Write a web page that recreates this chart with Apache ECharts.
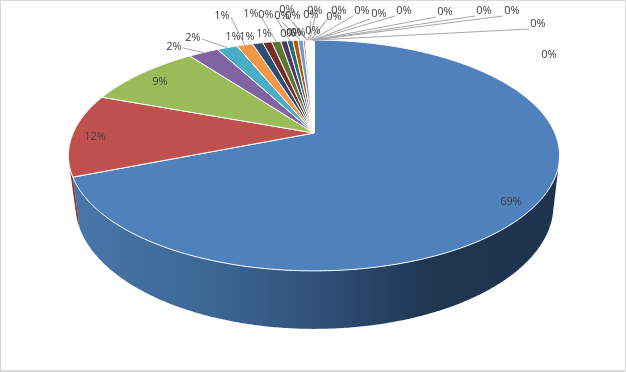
<!DOCTYPE html>
<html>
<head>
<meta charset="utf-8">
<style>
  html, body { margin: 0; padding: 0; background: #fff; }
  #chart { position: absolute; left: 0; top: 0; width: 626px; height: 372px; }
  #frame { position: absolute; left: 0; top: 0; width: 626px; height: 372px; box-sizing: border-box; border: 1px solid #d9d9d9; border-bottom-width: 2px; pointer-events: none; }
</style>
</head>
<body>
<div id="chart"></div>
<div id="frame"></div>
<script src="https://cdn.jsdelivr.net/npm/echarts@6/dist/echarts.min.js"></script>
<script>
  // share of each slice, clockwise from 12 o'clock
  const sliceValues = [
    69.0, 11.6, 9.25, 2.38, 1.61, 1.28, 0.83, 0.71, 0.71, 0.52,
    0.45, 0.42, 0.41, 0.16, 0.08, 0.07, 0.07, 0.06, 0.06, 0.05,
    0.05, 0.05, 0.04, 0.04, 0.03, 0.03, 0.02, 0.02, 0.01, 0.01
  ];

  const sliceColors = [
    '#4f81bd', '#c0504d', '#9bbb59', '#8064a2', '#4bacc6', '#f79646',
    '#2c4d75', '#772c2a', '#5f7530', '#4d3b62', '#276a7c', '#b65708',
    '#729aca', '#cd7371', '#afc97a', '#9983b5', '#6fbdd1', '#f9ab6b',
    '#a5b9d9', '#dba5a3', '#c9d8a8', '#bcaecb', '#a3d4e2', '#fbc99b',
    '#d0dcec', '#ebcfce', '#e2ebd3', '#ddd6e5', '#d1eaf0', '#fde4cd'
  ];

  // where each label sits, same order as the slices
  const labelSpots = [
    [511, 201], [95, 136], [160, 81], [174, 46], [193, 37],
    [222, 15], [233, 36], [247, 36], [251, 13], [264, 33],
    [266, 14], [288, 33], [282, 15], [294, 32], [298, 32],
    [287, 9], [293, 15], [311, 14], [313, 30], [315, 10],
    [334, 16], [339, 10], [362, 10], [379, 13], [404, 10],
    [445, 11], [484, 10], [512, 10], [538, 23], [549, 54]
  ];

  const total = sliceValues.reduce((a, b) => a + b, 0);
  const startAngles = [];
  sliceValues.reduce((acc, v, i) => {
    startAngles[i] = acc;
    return acc + v / total * 360;
  }, 0);

  // excel style perspective: the apex is not the ellipse centre
  const apexX = 314, apexY = 133, scaleX = 240.8, scaleY = 111, persp = 0.195;
  const topCx = 313.5, topCy = 155.5, topRx = 245.5, topRy = 115.5;
  const botCx = 314, botCy = 205, botRx = 239, botRy = 124;
  const sideFrom = 106, sideTo = 255;  // visible part of the rim

  function topPoint(deg) {
    const r = deg * Math.PI / 180;
    const u = Math.sin(r), v = -Math.cos(r);
    const w = 1 - persp * v;
    return [apexX + scaleX * u / w, apexY + scaleY * v / w];
  }

  function bottomPoint(deg) {
    const p = topPoint(deg);
    return [
      botCx + botRx * (p[0] - topCx) / topRx,
      botCy + botRy * (p[1] - topCy) / topRy
    ];
  }

  function arc(fn, from, to) {
    const steps = Math.max(2, Math.ceil(Math.abs(to - from) / 0.5));
    const pts = [];
    for (let i = 0; i <= steps; i++) {
      pts.push(fn(from + (to - from) * i / steps));
    }
    return pts;
  }

  const sideBlue = new echarts.graphic.LinearGradient(78, 0, 560, 0, [
    {offset: 0, color: '#4876a9'},
    {offset: 0.32, color: '#3a6390'},
    {offset: 0.5, color: '#2f5078'},
    {offset: 0.74, color: '#1f3550'},
    {offset: 1, color: '#1e344e'}
  ], true);
  const sideFills = {0: sideBlue, 1: '#93302d'};

  function renderSide(params, api) {
    const i = api.value(0);
    const from = Math.max(startAngles[i], sideFrom);
    const to = Math.min(startAngles[i] + api.value(1) / total * 360, sideTo);
    if (to <= from || !sideFills[i]) return {type: 'group', children: []};

    return {
      type: 'polygon',
      shape: {points: arc(topPoint, from, to).concat(arc(bottomPoint, to, from))},
      style: {fill: sideFills[i], stroke: null}
    };
  }

  function renderTop(params, api) {
    const i = api.value(0);
    const from = startAngles[i];
    const to = from + api.value(1) / total * 360;

    return {
      type: 'polygon',
      shape: {points: [[apexX, apexY]].concat(arc(topPoint, from, to))},
      style: {fill: sliceColors[i], stroke: '#fff', lineWidth: 1}
    };
  }

  function renderLabel(params, api) {
    const i = api.value(0);
    const spot = labelSpots[i];
    const children = [];
    const mid = startAngles[i] + api.value(1) / total * 180;
    const end = topPoint(mid);
    const dist = Math.hypot(end[0] - spot[0], end[1] - spot[1]);

    // the three big slices hold their label, the last one has no line
    if (i > 2 && i < sliceValues.length - 1 && dist > 26) {
      let start;
      if (spot[0] < end[0] - 20) {
        start = [spot[0] + 9, spot[1] + 2];
      } else if (spot[0] > end[0] + 20) {
        start = [spot[0] - 9, spot[1] + 6];
      } else {
        start = [spot[0], spot[1] + 7];
      }
      children.push({
        type: 'polyline',
        shape: {points: [start, end]},
        style: {stroke: '#a6a6a6', lineWidth: 1, fill: null}
      });
    }

    children.push({
      type: 'text',
      z2: 5,
      style: {
        x: spot[0],
        y: spot[1] + 1,
        text: Math.round(api.value(1) / total * 100) + '%',
        font: '11px "Open Sans", sans-serif',
        fill: '#404040',
        align: 'center',
        verticalAlign: 'middle'
      }
    });

    return {type: 'group', children};
  }

  const chart = echarts.init(document.getElementById('chart'));
  const seriesData = sliceValues.map((v, i) => [i, v]);

  chart.setOption({
    animation: false,
    series: [
      {type: 'custom', coordinateSystem: 'none', silent: true, z: 1, renderItem: renderSide, data: seriesData},
      {type: 'custom', coordinateSystem: 'none', silent: true, z: 2, renderItem: renderTop, data: seriesData},
      {type: 'custom', coordinateSystem: 'none', silent: true, z: 3, renderItem: renderLabel, data: seriesData}
    ]
  });
</script>
</body>
</html>
